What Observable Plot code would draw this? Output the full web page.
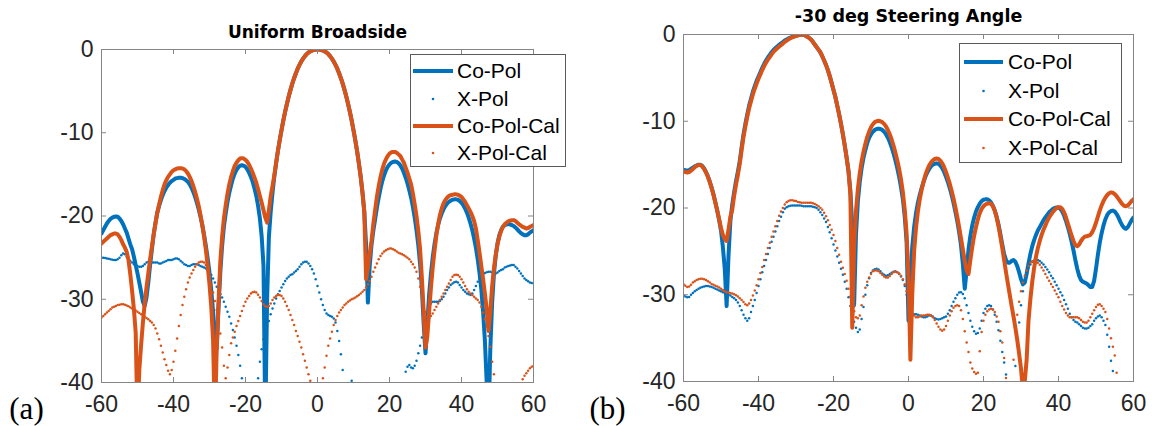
<!DOCTYPE html>
<html><head><meta charset="utf-8">
<script src="https://cdn.jsdelivr.net/npm/d3@7"></script>
<script src="https://cdn.jsdelivr.net/npm/@observablehq/plot@0.6"></script>
<style>
html,body{margin:0;padding:0;background:#fff;}
#wrap{position:relative;width:1157px;height:426px;overflow:hidden;background:#fff;}
.panel{position:absolute;top:0;}
</style></head><body><div id="wrap"></div>
<script>
// ---------- data (angle grid: -60..60 deg, 0.5 deg step) ----------
const angles = d3.range(-60, 60.25, 0.5);
const xTicks = [-60, -40, -20, 0, 20, 40, 60];
const yTicks = [-40, -30, -20, -10, 0];
const seriesNames = ["Co-Pol", "X-Pol", "Co-Pol-Cal", "X-Pol-Cal"];
const titles = ["Uniform Broadside", "-30 deg Steering Angle"];
const tags = ["(a)", "(b)"];

// (a) Uniform Broadside
const leftCoPol = [
-22.1,-21.7,-21.3,-20.9,-20.6,-20.35,-20.2,-20.1,-20.06,-20.1,-20.3,-20.6,-21.0,-21.5,-22.0,-22.7,-23.4,-24.0,-24.9,-25.9,
-26.9,-28.0,-29.1,-30.3,-30.8,-29.8,-28.0,-25.9,-24.0,-22.2,-20.8,-19.6,-18.8,-18.1,-17.5,-17.0,-16.6,-16.3,-16.0,-15.8,
-15.65,-15.5,-15.45,-15.4,-15.4,-15.45,-15.55,-15.7,-15.9,-16.2,-16.6,-17.1,-17.7,-18.4,-19.2,-20.1,-21.1,-22.3,-23.6,-25.1,
-26.8,-29.0,-31.5,-34.5,-36.0,-31.0,-26.8,-23.6,-21.3,-19.7,-18.3,-17.2,-16.3,-15.5,-14.9,-14.45,-14.15,-13.95,-13.9,-13.95,
-14.1,-14.4,-14.8,-15.3,-15.9,-16.7,-17.6,-18.8,-20.3,-22.5,-26.0,-45,-30,-22.5,-19.5,-17.2,-15.3,-13.7,-12.2,-10.9,
-9.7,-8.55,-7.5,-6.55,-5.65,-4.85,-4.1,-3.45,-2.85,-2.3,-1.85,-1.45,-1.1,-0.8,-0.55,-0.36,-0.22,-0.12,-0.05,-0.01,
0,-0.01,-0.05,-0.12,-0.22,-0.36,-0.55,-0.8,-1.1,-1.45,-1.85,-2.3,-2.85,-3.45,-4.1,-4.85,-5.65,-6.55,-7.5,-8.55,
-9.7,-10.9,-12.2,-13.7,-15.3,-17.2,-19.5,-23.5,-30.4,-26.0,-23.5,-21.8,-20.4,-19.0,-17.8,-16.7,-15.8,-15.1,-14.5,-14.1,
-13.8,-13.6,-13.5,-13.45,-13.5,-13.65,-13.9,-14.3,-14.8,-15.4,-16.1,-16.9,-17.8,-18.9,-20.2,-21.7,-23.5,-25.8,-28.8,-33.0,
-36.5,-33.0,-29.5,-27.0,-25.0,-23.4,-22.1,-21.1,-20.3,-19.7,-19.2,-18.8,-18.5,-18.3,-18.15,-18.05,-18.0,-18.0,-18.05,-18.2,
-18.4,-18.7,-19.1,-19.6,-20.2,-20.9,-21.7,-22.7,-23.8,-25.2,-26.8,-28.8,-31.5,-35.0,-40.0,-45.0,-36.0,-30.5,-27.0,-24.8,
-23.3,-22.3,-21.7,-21.3,-21.1,-21.0,-21.0,-21.0,-21.1,-21.2,-21.4,-21.6,-21.85,-22.05,-22.2,-22.3,-22.3,-22.2,-22.0,-21.85,
-21.7];
const leftXPol = [
-25.0,-25.0,-25.05,-25.1,-25.15,-25.2,-25.25,-25.3,-25.3,-25.2,-25.0,-24.7,-24.5,-24.6,-24.9,-25.2,-25.4,-25.6,-25.8,-25.9,
-26.0,-26.1,-26.1,-26.0,-25.8,-25.6,-25.5,-25.5,-25.6,-25.6,-25.6,-25.6,-25.7,-25.7,-25.6,-25.5,-25.4,-25.3,-25.3,-25.3,
-25.2,-25.1,-25.1,-25.2,-25.4,-25.6,-25.8,-25.9,-26.0,-26.0,-25.9,-25.8,-25.8,-25.8,-25.9,-26.0,-26.1,-26.2,-26.3,-26.5,
-26.8,-27.1,-27.5,-28.0,-28.5,-29.0,-29.4,-29.8,-30.3,-30.9,-31.5,-32.1,-32.9,-33.7,-34.6,-35.6,-36.7,-38.0,-39.5,null,
null,null,null,null,null,null,null,-39.5,-37.5,-36.0,-34.8,-33.9,-33.2,-32.6,-31.8,-31.1,-30.5,-29.9,-29.4,-29.0,
-28.6,-28.2,-27.8,-27.5,-27.3,-27.1,-27.0,-26.8,-26.6,-26.4,-26.1,-25.8,-25.6,-25.5,-25.5,-25.7,-26.0,-26.4,-26.9,-27.6,
-28.4,-29.2,-30.0,-30.7,-31.3,-31.7,-31.9,-32.0,-32.1,-32.3,-32.8,-33.8,-35.0,-36.6,-38.5,null,null,null,null,-39.8,
null,null,null,null,null,null,null,null,null,null,null,null,null,null,null,null,null,null,null,null,
null,null,null,null,null,null,null,null,null,-38.7,-38.1,-37.9,-38.2,-38.3,-38.0,-37.4,-36.5,-35.6,-34.6,-33.4,
-32.4,-31.7,-31.0,-30.5,-30.3,-30.3,-30.3,-30.3,-30.2,-30.0,-29.7,-29.3,-28.9,-28.6,-28.3,-28.1,-27.95,-27.9,-28.0,-28.3,
-28.6,-28.9,-29.1,-29.3,-29.4,-29.5,-29.3,-28.9,-28.4,-27.9,-27.5,-27.2,-27.0,-26.85,-26.75,-26.7,-26.7,-26.8,-26.9,-26.9,
-26.8,-26.6,-26.5,-26.4,-26.2,-26.1,-26.0,-25.95,-25.9,-25.9,-26.1,-26.3,-26.6,-26.9,-27.2,-27.5,-27.7,-27.85,-28.0,-28.05,
-28.1];
const leftCoPolCal = [
-23.3,-23.1,-22.9,-22.7,-22.5,-22.3,-22.2,-22.1,-22.1,-22.2,-22.5,-22.9,-23.4,-23.8,-24.3,-25.3,-27.0,-29.0,-31.2,-34.0,
-45,-38.5,-35.5,-32.8,-30.5,-28.6,-26.9,-25.2,-23.7,-22.2,-20.9,-19.6,-18.6,-17.7,-16.9,-16.2,-15.7,-15.3,-15.0,-14.7,
-14.5,-14.4,-14.3,-14.25,-14.25,-14.3,-14.4,-14.6,-14.9,-15.3,-15.8,-16.4,-17.1,-17.9,-18.8,-19.9,-21.1,-22.5,-24.1,-26.0,
-28.2,-31.0,-35.0,-45.0,-36.0,-30.5,-25.5,-22.5,-20.3,-18.7,-17.3,-16.2,-15.3,-14.6,-14.0,-13.6,-13.3,-13.1,-13.05,-13.1,
-13.25,-13.5,-13.85,-14.3,-14.8,-15.4,-16.0,-16.8,-17.6,-18.4,-19.3,-20.2,-20.8,-19.3,-17.6,-16.4,-15.1,-13.6,-12.2,-10.9,
-9.7,-8.55,-7.5,-6.55,-5.65,-4.85,-4.1,-3.45,-2.85,-2.3,-1.85,-1.45,-1.1,-0.8,-0.55,-0.36,-0.22,-0.12,-0.05,-0.01,
0,-0.01,-0.05,-0.12,-0.22,-0.36,-0.55,-0.8,-1.1,-1.45,-1.85,-2.3,-2.85,-3.45,-4.1,-4.85,-5.65,-6.55,-7.5,-8.55,
-9.7,-10.9,-12.2,-13.7,-15.3,-17.2,-19.5,-27.6,-26.2,-24.6,-23.0,-21.0,-19.3,-17.7,-16.4,-15.3,-14.4,-13.7,-13.2,-12.8,
-12.5,-12.35,-12.3,-12.3,-12.4,-12.6,-12.8,-13.2,-13.6,-14.2,-14.8,-15.5,-16.2,-17.3,-18.6,-20.0,-21.8,-24.0,-27.5,-31.5,
-35.8,-34.5,-31.5,-28.7,-26.2,-24.2,-22.4,-21.0,-19.9,-19.1,-18.5,-18.1,-17.8,-17.6,-17.5,-17.45,-17.4,-17.4,-17.45,-17.55,
-17.7,-18.0,-18.3,-18.7,-19.1,-19.5,-20.0,-20.6,-21.5,-22.9,-24.4,-26.0,-27.6,-29.3,-31.2,-33.8,-31.5,-28.5,-26.3,-24.7,
-23.4,-22.5,-21.8,-21.3,-21.0,-20.8,-20.65,-20.55,-20.5,-20.5,-20.6,-20.8,-21.0,-21.15,-21.3,-21.4,-21.5,-21.45,-21.3,-21.2,
-21.1];
const leftXPolCal = [
-32.2,-32.0,-31.8,-31.6,-31.4,-31.2,-31.0,-30.9,-30.8,-30.7,-30.65,-30.6,-30.6,-30.65,-30.75,-30.85,-31.0,-31.1,-31.2,-31.35,
-31.5,-31.65,-31.8,-31.95,-32.1,-32.25,-32.4,-32.6,-32.8,-33.1,-33.5,-34.1,-34.8,-35.6,-36.4,-37.2,-37.9,-38.6,-39.0,-38.5,
-37.5,-36.2,-34.7,-33.2,-31.9,-30.7,-29.7,-28.8,-28.0,-27.4,-26.9,-26.5,-26.1,-25.8,-25.6,-25.5,-25.5,-25.6,-25.9,-26.5,
-27.3,-28.2,-29.2,-30.2,-31.3,-32.6,-34.1,-35.8,-38.0,-39.5,-38.2,-36.7,-35.3,-34.6,-33.9,-33.2,-32.6,-32.0,-31.4,-30.8,
-30.3,-29.9,-29.6,-29.3,-29.15,-29.1,-29.2,-29.45,-29.8,-30.2,-30.6,-30.85,-30.9,-30.8,-30.5,-30.1,-29.8,-29.6,-29.5,-29.5,
-29.6,-29.9,-30.3,-30.8,-31.3,-31.9,-32.5,-33.1,-33.8,-34.4,-35.1,-35.8,-36.6,-37.4,-38.2,-39.0,-39.8,null,null,null,
null,null,null,-39.5,-38.2,-36.8,-35.6,-34.7,-33.9,-33.1,-32.5,-32.0,-31.6,-31.3,-31.0,-30.7,-30.5,-30.3,-30.15,-30.0,
-29.9,-29.8,-29.65,-29.5,-29.3,-29.1,-28.9,-28.6,-28.2,-27.8,-27.3,-26.7,-26.2,-25.7,-25.2,-24.8,-24.5,-24.25,-24.1,-24.0,
-23.9,-23.9,-24.0,-24.1,-24.25,-24.4,-24.5,-24.6,-24.7,-24.85,-25.0,-25.2,-25.5,-25.8,-26.2,-26.7,-27.5,-28.5,-29.5,-30.6,
-31.5,-32.1,-32.3,-32.0,-31.7,-31.3,-30.9,-30.5,-30.1,-29.7,-29.3,-28.9,-28.5,-28.1,-27.7,-27.3,-27.1,-27.05,-27.1,-27.3,
-27.6,-28.0,-28.4,-28.8,-29.1,-29.3,-29.5,-29.7,-29.9,-30.1,-30.4,-30.9,-31.6,-32.4,-33.3,-34.4,-35.7,-37.5,-39.0,null,
null,null,null,null,null,null,null,null,null,null,null,null,null,null,-39.6,-39.2,-38.9,-38.6,-38.3,-38.1,
-38.0];

// (b) -30 deg Steering Angle
const rightCoPol = [
-15.6,-15.65,-15.7,-15.65,-15.5,-15.35,-15.2,-15.1,-15.0,-15.0,-15.15,-15.45,-15.85,-16.35,-16.95,-17.65,-18.45,-19.35,-20.3,-21.4,
-22.6,-24.5,-27.0,-31.3,-25.5,-21.5,-19.6,-18.2,-16.9,-15.8,-14.6,-13.0,-11.5,-10.3,-9.2,-8.2,-7.4,-6.6,-5.95,-5.35,
-4.85,-4.35,-3.85,-3.4,-3.0,-2.65,-2.35,-2.05,-1.78,-1.56,-1.38,-1.2,-1.03,-0.88,-0.7,-0.57,-0.45,-0.35,-0.27,-0.2,
-0.14,-0.08,-0.03,0,-0.03,-0.12,-0.25,-0.4,-0.58,-0.85,-1.15,-1.45,-1.75,-2.05,-2.5,-3.0,-3.5,-4.1,-4.8,-5.6,
-6.4,-7.2,-8.2,-9.2,-10.3,-11.5,-12.8,-14.2,-15.8,-18.0,-22.0,-31.2,-23.0,-19.2,-17.0,-15.4,-14.2,-13.3,-12.5,-11.9,
-11.5,-11.2,-11.0,-10.9,-10.85,-10.9,-11.0,-11.2,-11.5,-11.9,-12.4,-13.0,-13.7,-14.5,-15.4,-16.4,-17.6,-19.0,-21.0,-24.0,
-33.0,-28.0,-24.5,-22.2,-20.6,-19.4,-18.5,-17.7,-17.0,-16.4,-15.9,-15.5,-15.2,-15.0,-14.9,-14.85,-14.9,-15.1,-15.4,-15.85,
-16.4,-17.0,-17.7,-18.5,-19.4,-20.4,-21.5,-22.8,-24.3,-26.5,-29.3,-27.2,-24.8,-23.2,-22.0,-21.1,-20.4,-19.9,-19.5,-19.2,
-19.05,-19.0,-19.0,-19.1,-19.35,-19.75,-20.3,-21.0,-21.9,-23.0,-24.2,-25.3,-26.0,-26.3,-26.3,-26.1,-26.0,-26.2,-26.7,-27.4,
-28.2,-28.8,-28.6,-27.6,-26.4,-25.3,-24.4,-23.7,-23.1,-22.6,-22.2,-21.8,-21.4,-21.1,-20.8,-20.5,-20.3,-20.1,-20.0,-19.95,
-19.95,-20.1,-20.4,-20.9,-21.5,-22.2,-23.0,-23.9,-24.9,-26.0,-27.0,-27.8,-28.3,-28.5,-28.6,-28.7,-28.9,-29.1,-29.1,-28.4,
-27.0,-25.4,-24.0,-22.9,-22.0,-21.3,-20.8,-20.5,-20.35,-20.3,-20.4,-20.7,-21.1,-21.6,-22.0,-22.3,-22.4,-22.2,-21.8,-21.4,
-21.1];
const rightXPol = [
-30.1,-30.2,-30.3,-30.25,-30.0,-29.8,-29.6,-29.45,-29.3,-29.2,-29.1,-29.05,-29.0,-29.0,-29.05,-29.1,-29.2,-29.3,-29.4,-29.5,
-29.6,-29.7,-29.8,-29.9,-30.0,-30.1,-30.25,-30.4,-30.6,-30.9,-31.3,-31.8,-32.3,-32.7,-33.0,-32.7,-32.0,-31.3,-30.6,-29.8,
-29.0,-28.2,-27.4,-26.7,-26.0,-25.3,-24.6,-23.9,-23.3,-22.7,-22.1,-21.5,-21.0,-20.5,-20.1,-19.9,-19.8,-19.75,-19.7,-19.7,
-19.7,-19.7,-19.7,-19.75,-19.8,-19.8,-19.8,-19.8,-19.8,-19.85,-19.9,-20.0,-20.2,-20.5,-20.8,-21.2,-21.6,-22.2,-22.8,-23.5,
-24.2,-24.9,-25.6,-26.3,-27.0,-27.7,-28.5,-29.3,-30.3,-31.3,-32.3,-33.1,-33.8,-34.3,-34.0,-32.8,-31.4,-30.0,-28.9,-28.1,
-27.5,-27.2,-27.05,-27.0,-27.1,-27.3,-27.55,-27.7,-27.8,-27.75,-27.6,-27.45,-27.35,-27.3,-27.4,-27.6,-27.9,-28.3,-29.0,-30.0,
-31.2,-32.0,-32.2,-32.25,-32.25,-32.3,-32.4,-32.5,-32.6,-32.6,-32.5,-32.4,-32.4,-32.5,-32.7,-32.8,-32.85,-32.8,-32.7,-32.6,
-32.5,-32.2,-31.8,-31.3,-30.8,-30.4,-30.0,-29.75,-29.7,-29.9,-30.4,-31.2,-32.1,-33.0,-33.7,-34.2,-34.5,-34.4,-33.9,-33.0,
-32.1,-31.6,-31.3,-31.2,-31.3,-31.7,-32.3,-33.1,-34.1,-35.3,-36.6,-37.8,-39.2,null,null,null,null,-38.2,-35.8,-33.2,
-31.2,-29.6,-28.5,-27.6,-26.9,-26.5,-26.2,-26.05,-26.0,-26.0,-26.1,-26.3,-26.5,-26.8,-27.1,-27.4,-27.8,-28.1,-28.5,-28.9,
-29.3,-29.7,-30.1,-30.6,-31.1,-31.6,-32.2,-32.6,-32.9,-33.1,-33.2,-33.4,-33.6,-33.8,-33.9,-33.9,-33.8,-33.6,-33.4,-33.0,
-32.7,-32.5,-32.4,-32.6,-33.0,-33.5,-34.6,-36.0,-37.6,-38.8,null,null,null,null,null,null,null,null,null,null,
null];
const rightCoPolCal = [
-15.8,-15.85,-15.9,-15.85,-15.7,-15.5,-15.3,-15.15,-15.05,-15.05,-15.2,-15.5,-15.9,-16.4,-17.0,-17.7,-18.5,-19.4,-20.3,-21.3,
-22.3,-23.1,-23.6,-23.8,-22.5,-21.0,-20.2,-18.6,-17.3,-16.2,-14.9,-13.3,-11.8,-10.6,-9.5,-8.5,-7.7,-6.9,-6.25,-5.65,
-5.1,-4.6,-4.1,-3.65,-3.25,-2.9,-2.6,-2.3,-2.0,-1.78,-1.58,-1.4,-1.22,-1.05,-0.85,-0.7,-0.55,-0.43,-0.33,-0.25,
-0.18,-0.1,-0.05,0,-0.03,-0.12,-0.25,-0.4,-0.58,-0.85,-1.15,-1.45,-1.75,-2.05,-2.5,-3.0,-3.5,-4.1,-4.8,-5.6,
-6.4,-7.2,-8.2,-9.2,-10.3,-11.5,-12.8,-14.2,-15.7,-18.5,-33.8,-24.5,-20.3,-17.8,-16.0,-14.6,-13.5,-12.6,-11.8,-11.2,
-10.7,-10.35,-10.1,-10.0,-9.95,-10.0,-10.1,-10.3,-10.6,-11.0,-11.5,-12.1,-12.8,-13.6,-14.5,-15.5,-16.7,-18.2,-20.2,-23.0,
-28.0,-37.5,-30.0,-25.0,-22.3,-20.4,-19.0,-17.9,-17.0,-16.2,-15.6,-15.1,-14.75,-14.5,-14.35,-14.3,-14.35,-14.55,-14.85,-15.3,
-15.85,-16.5,-17.2,-18.0,-18.9,-19.9,-21.0,-22.2,-23.5,-24.8,-26.1,-27.2,-27.6,-26.0,-24.5,-23.2,-22.2,-21.3,-20.6,-20.1,
-19.8,-19.6,-19.5,-19.45,-19.5,-19.8,-20.3,-21.1,-22.1,-23.3,-24.6,-26.0,-27.4,-28.7,-30.0,-31.3,-32.5,-33.8,-35.2,-36.8,
-38.5,-41.0,-40.0,-37.5,-33.0,-30.5,-28.5,-26.9,-25.6,-24.6,-23.8,-23.1,-22.5,-22.0,-21.5,-21.1,-20.75,-20.45,-20.2,-20.0,
-19.9,-19.9,-20.1,-20.5,-21.1,-21.8,-22.5,-23.2,-23.8,-24.3,-24.4,-24.2,-23.8,-23.5,-23.3,-23.25,-23.2,-23.1,-22.8,-22.3,
-21.7,-21.0,-20.3,-19.7,-19.2,-18.8,-18.5,-18.3,-18.2,-18.25,-18.4,-18.65,-18.95,-19.25,-19.55,-19.75,-19.8,-19.7,-19.45,-19.2,
-19.0];
const rightXPolCal = [
-28.8,-28.95,-29.1,-29.05,-28.85,-28.6,-28.45,-28.3,-28.2,-28.15,-28.15,-28.2,-28.3,-28.45,-28.6,-28.75,-28.85,-28.95,-29.05,-29.15,
-29.3,-29.45,-29.6,-29.7,-29.75,-29.8,-29.85,-29.95,-30.05,-30.2,-30.4,-30.6,-30.85,-31.1,-31.2,-31.0,-30.6,-30.1,-29.5,-28.9,
-28.2,-27.5,-26.8,-26.0,-25.3,-24.6,-24.0,-23.3,-22.7,-22.1,-21.5,-20.9,-20.4,-20.0,-19.6,-19.35,-19.2,-19.1,-19.1,-19.15,
-19.2,-19.3,-19.35,-19.4,-19.4,-19.4,-19.4,-19.4,-19.4,-19.45,-19.55,-19.65,-19.8,-20.0,-20.2,-20.55,-20.95,-21.4,-21.95,-22.5,
-23.1,-23.8,-24.6,-25.4,-26.2,-26.9,-27.6,-28.4,-29.3,-30.2,-31.1,-31.9,-32.6,-32.7,-32.4,-31.2,-30.2,-29.2,-28.5,-28.0,
-27.6,-27.3,-27.2,-27.2,-27.3,-27.5,-27.7,-27.9,-28.0,-28.0,-27.85,-27.6,-27.4,-27.35,-27.4,-27.55,-27.8,-28.2,-28.8,-29.6,
-30.5,-31.4,-32.0,-32.4,-32.6,-32.6,-32.5,-32.4,-32.4,-32.35,-32.3,-32.3,-32.4,-32.6,-32.9,-33.3,-33.7,-34.0,-34.15,-34.0,
-33.6,-33.0,-32.4,-31.9,-31.5,-31.3,-31.2,-31.3,-31.8,-32.8,-34.2,-35.5,-36.6,-37.8,-38.5,-38.9,-39.1,-39.0,-36.5,-34.3,
-33.0,-32.3,-31.9,-31.7,-31.6,-31.7,-32.0,-32.5,-33.1,-34.2,-35.5,-37.3,-39.6,null,null,null,-37.5,-34.2,-32.3,-30.8,
-29.6,-28.6,-27.8,-27.2,-26.7,-26.35,-26.15,-26.1,-26.15,-26.3,-26.55,-26.85,-27.2,-27.6,-28.0,-28.4,-28.75,-29.1,-29.5,-29.9,
-30.3,-30.8,-31.3,-31.7,-32.1,-32.4,-32.6,-32.6,-32.6,-32.6,-32.6,-32.7,-32.9,-33.1,-33.2,-33.2,-33.0,-32.6,-32.2,-31.8,
-31.4,-31.15,-31.1,-31.3,-31.6,-32.0,-32.8,-33.9,-35.0,-36.0,-37.0,-39.0,null,null,null,null,null,null,null,null,
null];

// ---------- sanity check ----------
const all = {leftCoPol, leftXPol, leftCoPolCal, leftXPolCal, rightCoPol, rightXPol, rightCoPolCal, rightXPolCal};
for (const [k, v] of Object.entries(all)) if (v.length !== angles.length) throw new Error(k + " has " + v.length + " values, expected " + angles.length);

// ---------- styling ----------
const BLUE = "#0072BD", ORANGE = "#D95319", AXIS = "#858585", LABEL = "#262626";
const H = 426;

function rowsOf(co, x, coc, xc) {
  return angles.map((a, i) => ({angle: a, coPol: co[i], xPol: x[i], coPolCal: coc[i], xPolCal: xc[i]}));
}

function panel(rows, {width, ml, mr, mt, mb, title, titleDy, titleSize, tag, tagDx, tagDy}) {
  const ph = H - mt - mb, pw = width - ml - mr;
  return Plot.plot({
    width, height: H, marginLeft: ml, marginRight: mr, marginTop: mt, marginBottom: mb,
    style: {fontFamily: "'Liberation Sans', Arial, sans-serif", fontSize: "23px", color: LABEL, background: "transparent", overflow: "visible"},
    x: {domain: [-60, 60]},
    y: {domain: [-40, 0]},
    marks: [
      Plot.line(rows, {x: "angle", y: "coPol", stroke: BLUE, strokeWidth: 4, clip: true}),
      Plot.dot(rows, {x: "angle", y: "xPol", r: 1.25, fill: BLUE, stroke: null, clip: true}),
      Plot.line(rows, {x: "angle", y: "coPolCal", stroke: ORANGE, strokeWidth: 4, clip: true}),
      Plot.dot(rows, {x: "angle", y: "xPolCal", r: 1.25, fill: ORANGE, stroke: null, clip: true}),
      Plot.frame({stroke: AXIS}),
      Plot.tickX(xTicks, {x: d => d, insetTop: ph - 5, stroke: AXIS}),
      Plot.tickX(xTicks, {x: d => d, insetBottom: ph - 5, stroke: AXIS}),
      Plot.tickY(yTicks, {y: d => d, insetRight: pw - 5, stroke: AXIS}),
      Plot.tickY(yTicks, {y: d => d, insetLeft: pw - 5, stroke: AXIS}),
      Plot.axisX({ticks: xTicks, tickFormat: d => String(d), tickSize: 0, tickPadding: 13, label: null, fill: LABEL, fontSize: 23}),
      Plot.axisY({ticks: yTicks, tickFormat: d => String(d), tickSize: 0, tickPadding: 8, label: null, fill: LABEL, fontSize: 23}),
      Plot.text([title], {text: d => d, frameAnchor: "top", lineAnchor: "middle", textAnchor: "middle", dy: titleDy, fontFamily: "'DejaVu Sans', sans-serif", fontWeight: "bold", fontSize: titleSize, fill: "#000"}),
      Plot.text([tag], {text: d => d, frameAnchor: "bottom-left", lineAnchor: "middle", textAnchor: "middle", dx: tagDx, dy: tagDy, fontFamily: "'Liberation Serif', 'DejaVu Serif', serif", fontSize: 31, fill: "#000"})
    ]
  });
}

function legend(left, top, w, h, rowYs, x0, x1, tx) {
  const svg = d3.create("svg").attr("width", w).attr("height", h)
    .style("position", "absolute").style("left", left + "px").style("top", top + "px");
  svg.append("rect").attr("x", 0.5).attr("y", 0.5).attr("width", w - 1).attr("height", h - 1)
    .attr("fill", "#fff").attr("stroke", "#5a5a5a");
  const colors = [BLUE, BLUE, ORANGE, ORANGE];
  seriesNames.forEach((name, i) => {
    const y = rowYs[i];
    if (i % 2 === 0) {
      svg.append("line").attr("x1", x0).attr("x2", x1).attr("y1", y).attr("y2", y)
        .attr("stroke", colors[i]).attr("stroke-width", 4);
    } else {
      svg.append("circle").attr("cx", (x0 + x1) / 2).attr("cy", y).attr("r", 1.3).attr("fill", colors[i]);
    }
    svg.append("text").attr("x", tx).attr("y", y).attr("dy", "0.35em")
      .attr("font-family", "'Liberation Sans', Arial, sans-serif").attr("font-size", 21).attr("fill", "#000")
      .text(name);
  });
  return svg.node();
}

const wrap = document.getElementById("wrap");

const left = panel(rowsOf(leftCoPol, leftXPol, leftCoPolCal, leftXPolCal), {
  width: 580, ml: 101, mr: 47, mt: 49, mb: 44,
  title: titles[0], titleDy: -17, titleSize: 17, tag: tags[0], tagDx: -75, tagDy: 27
});
left.classList.add("panel"); left.style.left = "0px";
wrap.appendChild(left);

const right = panel(rowsOf(rightCoPol, rightXPol, rightCoPolCal, rightXPolCal), {
  width: 577, ml: 103, mr: 24, mt: 34, mb: 45,
  title: titles[1], titleDy: -18, titleSize: 17.5, tag: tags[1], tagDx: -76, tagDy: 28
});
right.classList.add("panel"); right.style.left = "580px";
wrap.appendChild(right);

wrap.appendChild(legend(410, 54, 156, 113, [17, 45, 72, 99], 3, 43, 47));
wrap.appendChild(legend(959, 43, 163, 120, [19, 48, 76, 105], 5, 44, 49));
</script></body></html>
